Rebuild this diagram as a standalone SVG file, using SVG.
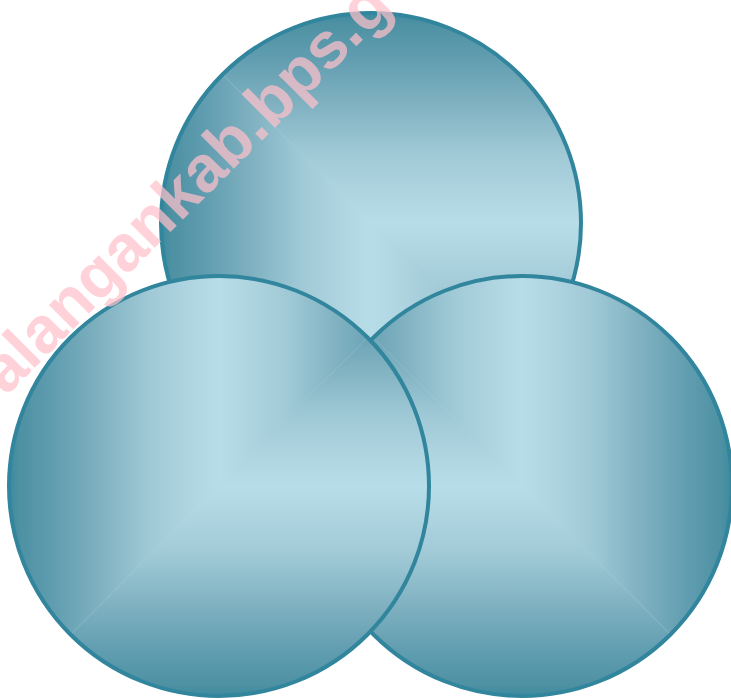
<svg xmlns="http://www.w3.org/2000/svg" width="731" height="699" viewBox="0 0 731 699">
<style>
.ring{fill:none;stroke:#31859c;stroke-width:4}
.base{fill:#b7dde8}
.rl{fill:url(#rampL)}
.rr{fill:url(#rampR)}
.rt{fill:url(#rampT)}
.rb{fill:url(#rampB)}
.wm{font-family:"Liberation Sans",Arial,sans-serif;font-weight:bold;font-size:65px;fill:#ffc0cb;fill-opacity:0.72}
</style>
<defs>
<linearGradient id="rampL" x1="0" y1="0" x2="1" y2="0">
<stop offset="0" stop-color="#3d8a9f"/>
<stop offset="0.05" stop-color="#4d91a3"/>
<stop offset="0.2" stop-color="#5f9caf"/>
<stop offset="0.43" stop-color="#7fb1c0"/>
<stop offset="0.67" stop-color="#a0c9d6"/>
<stop offset="0.91" stop-color="#b2d8e3"/>
<stop offset="1" stop-color="#b7dde8"/>
</linearGradient>
<linearGradient id="rampR" href="#rampL" x1="1" y1="0" x2="0" y2="0"/>
<linearGradient id="rampT" href="#rampL" x1="0" y1="0" x2="0" y2="1"/>
<linearGradient id="rampB" href="#rampL" x1="0" y1="1" x2="0" y2="0"/>
<clipPath id="cTop"><circle cx="371" cy="223" r="210"/></clipPath>
<clipPath id="cRight"><circle cx="522" cy="486" r="210"/></clipPath>
<clipPath id="cLeft"><circle cx="219" cy="486" r="210"/></clipPath>
</defs>
<g id="circle-top">
<g clip-path="url(#cTop)">
<rect class="base" x="161" y="13" width="420" height="420"/>
<polygon class="rl" points="161,13 371,223 371,433 161,433"/>
<polygon class="rt" points="161,13 581,13 581,223 371,223"/>
<polygon class="rr" points="371,223 371,433 581,433"/>
<polygon class="rb" points="371,223 581,433 581,223"/>
</g>
<circle class="ring" cx="371" cy="223" r="210"/>
</g>
<g id="circle-right">
<g clip-path="url(#cRight)">
<rect class="base" x="312" y="276" width="420" height="420"/>
<polygon class="rl" points="522,486 522,276 312,276"/>
<polygon class="rt" points="522,486 312,276 312,486"/>
<polygon class="rr" points="732,276 522,276 522,486 732,696"/>
<polygon class="rb" points="312,486 522,486 732,696 312,696"/>
</g>
<circle class="ring" cx="522" cy="486" r="210"/>
</g>
<g id="circle-left">
<g clip-path="url(#cLeft)">
<rect class="base" x="9" y="276" width="420" height="420"/>
<polygon class="rr" points="219,486 219,276 429,276"/>
<polygon class="rt" points="219,486 429,276 429,486"/>
<polygon class="rl" points="9,276 219,276 219,486 9,696"/>
<polygon class="rb" points="9,696 219,486 429,486 429,696"/>
</g>
<circle class="ring" cx="219" cy="486" r="210"/>
</g>
<g id="connectors"/>
<text class="wm" transform="translate(6,396.5) rotate(-45)">alangankab.bps.g</text>
</svg>
